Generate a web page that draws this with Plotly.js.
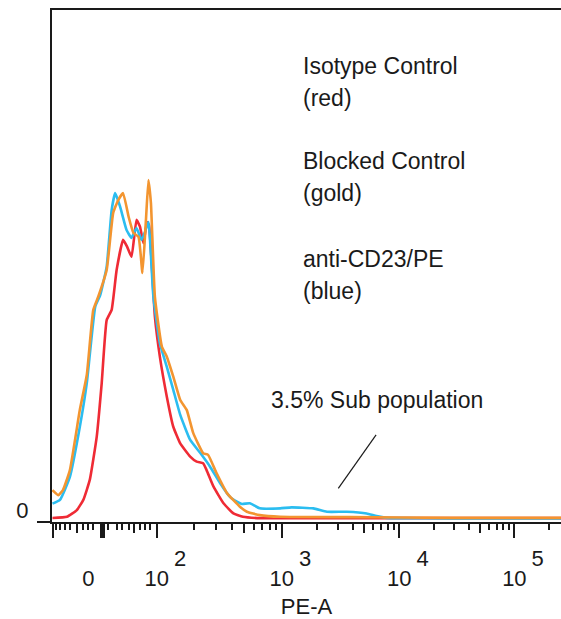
<!DOCTYPE html>
<html>
<head>
<meta charset="utf-8">
<script src="https://cdn.plot.ly/plotly-3.0.1.min.js"></script>
<style>html,body{margin:0;padding:0;background:#fff;}#chart{width:561px;height:619px;}</style>
</head>
<body>
<div id="chart"></div>
<script>
// ---- data (x = PE-A display channel on a biexponential 0-1024 scale, y = events) ----
const isotypeX = [1,30,50,63,76,90,100,110,120,130,143,151,160,170,177,184,191,195,207,217,231,244,258,278,291,304,311,325,345,365,384,420,1024];
const isotypeY = [0.15,0.5,2.5,5.5,11.4,24.2,40.0,58.6,61.6,73.4,82.3,80.3,77.3,88.2,86.2,81.3,87.6,86.7,59.6,47.8,36.0,27.1,22.2,18.3,16.8,16.3,14.3,9.4,4.5,1.5,0.5,0.1,0.1];

const blockedX = [1,13,22,36,56,70,83,93,110,123,133,143,154,164,174,182,189,194,199,207,221,231,244,258,271,284,304,314,331,352,378,392,418,459,600,800,1024];
const blockedY = [8.4,6.9,8.4,14.3,32.1,42.4,61.6,65.5,73.4,90.2,94.0,96.1,89.2,84.3,83.2,72.5,88.2,100.0,93.2,65.5,50.8,47.8,41.9,35.0,32.1,25.3,19.3,18.8,13.4,7.5,3.5,2.0,1.0,0.5,0.4,0.2,0.2];

const cd23X = [1,16,36,56,70,87,97,110,120,127,137,150,160,170,180,187,194,204,217,231,244,258,278,298,318,338,358,372,382,398,418,459,482,526,553,593,633,653,673,700,800,1024];
const cd23Y = [4.4,5.5,12.3,27.1,40.0,62.6,66.0,74.4,91.1,96.1,92.1,85.2,82.9,85.8,82.3,84.6,87.6,65.5,51.8,44.8,38.0,30.6,23.2,19.4,15.3,10.5,6.4,5.0,4.3,4.5,3.0,3.0,3.3,3.0,2.0,2.0,1.5,0.7,0.2,0.1,0.05,0.05];

// axis: decade positions (channels of 10^2..10^5) and labels
const decadeChannels = [210.7, 462.2, 698.8, 930.2];
const decadeExponents = ["2", "3", "4", "5"];
const zeroLabelChannel = 73.4;
const linearLongTicks = [1.4, 98, 101, 104];
const linearMidTicks = [50, 164];
const linearShortTicks = [8,16,26,36,63,73,83,113,130,140,154,177,187,197];

const legendText = ["Isotype Control", "(red)", "Blocked Control", "(gold)", "anti-CD23/PE", "(blue)"];
const legendYs = [133.7, 124.2, 105.6, 96.2, 76.7, 67.2];
const subPopText = "3.5% Sub population";

// ---- derived tick sets ----
const decadeWidth = [];
for (let i = 0; i < decadeChannels.length; i++) {
  const next = decadeChannels[i+1] !== undefined ? decadeChannels[i+1] : decadeChannels[i] + (decadeChannels[i] - decadeChannels[i-1]);
  decadeWidth.push(next - decadeChannels[i]);
}
const longTicks = linearLongTicks.concat(decadeChannels);
const midTicks = linearMidTicks.slice();
const shortTicks = linearShortTicks.slice();
decadeChannels.forEach((d, i) => {
  for (let k = 2; k <= 9; k++) {
    const v = d + Math.log10(k) * decadeWidth[i];
    if (v > 1024) continue;
    if (k === 5) midTicks.push(v); else shortTicks.push(v);
  }
});
const labelVals = [zeroLabelChannel].concat(decadeChannels);
const labelText = ["0"].concat(decadeChannels.map(() => "10"));
const supVals = decadeChannels.map(d => d + 46.9);

const FONT = "Liberation Sans, Arial, sans-serif";
const INK = "#1a1a1a";
const tickAxis = (vals, len, w) => ({
  overlaying: "x", anchor: "y", side: "bottom", range: [0, 1024],
  tickmode: "array", tickvals: vals, ticks: "outside", ticklen: len, tickwidth: w,
  tickcolor: INK, showticklabels: false, showgrid: false, zeroline: false,
  showline: false, automargin: false, fixedrange: true
});

const lineW = 2.6;
const lineOf = (c) => ({color: c, width: lineW, shape: "spline", smoothing: 0.4});
const traces = [
  {x: isotypeX, y: isotypeY, type: "scatter", mode: "lines", name: "Isotype Control", line: lineOf("#ef2b35")},
  {x: cd23X, y: cd23Y, type: "scatter", mode: "lines", name: "anti-CD23/PE", line: lineOf("#2bbdf0")},
  {x: blockedX, y: blockedY, type: "scatter", mode: "lines", name: "Blocked Control", line: lineOf("#f39530")},
  {x: [], y: [], xaxis: "x2", showlegend: false},
  {x: [], y: [], xaxis: "x3", showlegend: false},
  {x: [], y: [], xaxis: "x4", showlegend: false},
  {x: [], y: [], xaxis: "x5", showlegend: false}
];

const annotations = legendText.map((t, i) => ({
  x: 501, y: legendYs[i], xref: "x", yref: "y", text: t, showarrow: false,
  xanchor: "left", yanchor: "middle", font: {family: FONT, size: 23, color: INK}
}));
annotations.push({
  x: 436, y: 34.9, xref: "x", yref: "y", text: subPopText, showarrow: false,
  xanchor: "left", yanchor: "middle", font: {family: FONT, size: 23, color: INK}
});

const layout = {
  width: 561, height: 619,
  margin: {l: 52, r: 0, t: 10, b: 97, pad: 0},
  paper_bgcolor: "#fff", plot_bgcolor: "#fff",
  showlegend: false,
  font: {family: FONT, size: 22, color: INK},
  xaxis: {
    range: [0, 1024], tickmode: "array", tickvals: labelVals, ticktext: labelText,
    ticks: "", ticklabelstandoff: 36, tickfont: {family: FONT, size: 22, color: INK},
    showline: true, linecolor: INK, linewidth: 2, mirror: true,
    showgrid: false, zeroline: false, automargin: false, fixedrange: true,
    title: {text: "PE-A", font: {family: FONT, size: 22, color: INK}, standoff: 10}
  },
  xaxis2: tickAxis(longTicks, 15, 2),
  xaxis3: tickAxis(midTicks, 10, 2),
  xaxis4: tickAxis(shortTicks, 7, 2),
  xaxis5: {
    overlaying: "x", anchor: "y", side: "bottom", range: [0, 1024],
    tickmode: "array", tickvals: supVals, ticktext: decadeExponents, ticks: "",
    ticklabelstandoff: 21, tickfont: {family: FONT, size: 22, color: INK},
    showgrid: false, zeroline: false, showline: false, automargin: false, fixedrange: true
  },
  yaxis: {
    range: [-1.03, 150.2], tickmode: "array", tickvals: [0], ticktext: ["0"],
    ticks: "", ticklabelstandoff: 17, ticklabelshift: -8,
    tickfont: {family: FONT, size: 22, color: INK},
    showline: true, linecolor: INK, linewidth: 2, mirror: false,
    showgrid: false, zeroline: false, automargin: false, fixedrange: true
  },
  shapes: [
    {type: "line", xref: "paper", yref: "paper", x0: -0.0295, x1: 0, y0: 0, y1: 0,
     line: {color: INK, width: 2}},
    {type: "line", xref: "x", yref: "y", x0: 652, y0: 24.7, x1: 576, y1: 8.9,
     line: {color: INK, width: 1.2}}
  ],
  annotations: annotations
};

Plotly.newPlot("chart", traces, layout, {displayModeBar: false, staticPlot: true});
</script>
</body>
</html>
